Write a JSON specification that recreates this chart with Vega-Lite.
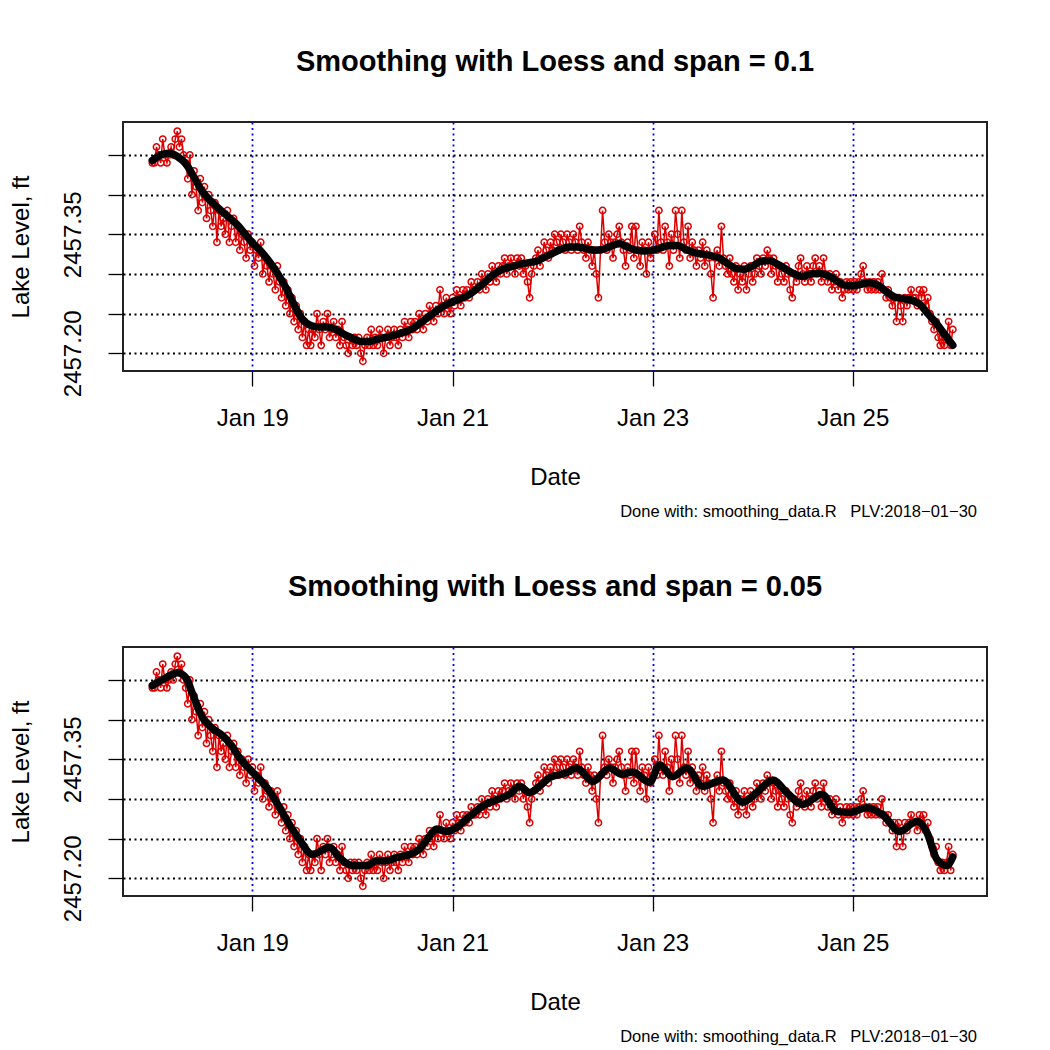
{
"$schema":"https://vega.github.io/schema/vega-lite/v6.json",
"background":"white",
"padding":{"left":7,"top":47,"right":5,"bottom":5},
"bounds":"flush",
"spacing":137.5,
"config":{"font":"Liberation Sans","view":{"stroke":"#222222","strokeWidth":2}},
"datasets":{
"raw":[
{"t":"2018-01-18T00:00","v":2457.44},{"t":"2018-01-18T00:30","v":2457.44},{"t":"2018-01-18T01:00","v":2457.46},{"t":"2018-01-18T01:30","v":2457.45},{"t":"2018-01-18T02:00","v":2457.44},{"t":"2018-01-18T02:30","v":2457.47},{"t":"2018-01-18T03:00","v":2457.45},{"t":"2018-01-18T03:30","v":2457.44},{"t":"2018-01-18T04:00","v":2457.45},{"t":"2018-01-18T04:30","v":2457.46},{"t":"2018-01-18T05:00","v":2457.45},{"t":"2018-01-18T05:30","v":2457.47},{"t":"2018-01-18T06:00","v":2457.48},{"t":"2018-01-18T06:30","v":2457.46},{"t":"2018-01-18T07:00","v":2457.47},{"t":"2018-01-18T07:30","v":2457.45},{"t":"2018-01-18T08:00","v":2457.44},{"t":"2018-01-18T08:30","v":2457.42},{"t":"2018-01-18T09:00","v":2457.45},{"t":"2018-01-18T09:30","v":2457.40},{"t":"2018-01-18T10:00","v":2457.43},{"t":"2018-01-18T10:30","v":2457.41},{"t":"2018-01-18T11:00","v":2457.38},{"t":"2018-01-18T11:30","v":2457.42},{"t":"2018-01-18T12:00","v":2457.39},{"t":"2018-01-18T12:30","v":2457.41},{"t":"2018-01-18T13:00","v":2457.37},{"t":"2018-01-18T13:30","v":2457.40},{"t":"2018-01-18T14:00","v":2457.38},{"t":"2018-01-18T14:30","v":2457.36},{"t":"2018-01-18T15:00","v":2457.39},{"t":"2018-01-18T15:30","v":2457.34},{"t":"2018-01-18T16:00","v":2457.38},{"t":"2018-01-18T16:30","v":2457.36},{"t":"2018-01-18T17:00","v":2457.37},{"t":"2018-01-18T17:30","v":2457.35},{"t":"2018-01-18T18:00","v":2457.38},{"t":"2018-01-18T18:30","v":2457.34},{"t":"2018-01-18T19:00","v":2457.36},{"t":"2018-01-18T19:30","v":2457.37},{"t":"2018-01-18T20:00","v":2457.34},{"t":"2018-01-18T20:30","v":2457.36},{"t":"2018-01-18T21:00","v":2457.33},{"t":"2018-01-18T21:30","v":2457.35},{"t":"2018-01-18T22:00","v":2457.34},{"t":"2018-01-18T22:30","v":2457.32},{"t":"2018-01-18T23:00","v":2457.35},{"t":"2018-01-18T23:30","v":2457.33},
{"t":"2018-01-19T00:00","v":2457.34},{"t":"2018-01-19T00:30","v":2457.31},{"t":"2018-01-19T01:00","v":2457.33},{"t":"2018-01-19T01:30","v":2457.32},{"t":"2018-01-19T02:00","v":2457.34},{"t":"2018-01-19T02:30","v":2457.30},{"t":"2018-01-19T03:00","v":2457.32},{"t":"2018-01-19T03:30","v":2457.31},{"t":"2018-01-19T04:00","v":2457.29},{"t":"2018-01-19T04:30","v":2457.31},{"t":"2018-01-19T05:00","v":2457.30},{"t":"2018-01-19T05:30","v":2457.28},{"t":"2018-01-19T06:00","v":2457.31},{"t":"2018-01-19T06:30","v":2457.29},{"t":"2018-01-19T07:00","v":2457.27},{"t":"2018-01-19T07:30","v":2457.29},{"t":"2018-01-19T08:00","v":2457.26},{"t":"2018-01-19T08:30","v":2457.28},{"t":"2018-01-19T09:00","v":2457.25},{"t":"2018-01-19T09:30","v":2457.27},{"t":"2018-01-19T10:00","v":2457.24},{"t":"2018-01-19T10:30","v":2457.26},{"t":"2018-01-19T11:00","v":2457.23},{"t":"2018-01-19T11:30","v":2457.25},{"t":"2018-01-19T12:00","v":2457.22},{"t":"2018-01-19T12:30","v":2457.24},{"t":"2018-01-19T13:00","v":2457.21},{"t":"2018-01-19T13:30","v":2457.23},{"t":"2018-01-19T14:00","v":2457.21},{"t":"2018-01-19T14:30","v":2457.23},{"t":"2018-01-19T15:00","v":2457.22},{"t":"2018-01-19T15:30","v":2457.25},{"t":"2018-01-19T16:00","v":2457.23},{"t":"2018-01-19T16:30","v":2457.21},{"t":"2018-01-19T17:00","v":2457.24},{"t":"2018-01-19T17:30","v":2457.23},{"t":"2018-01-19T18:00","v":2457.25},{"t":"2018-01-19T18:30","v":2457.22},{"t":"2018-01-19T19:00","v":2457.23},{"t":"2018-01-19T19:30","v":2457.24},{"t":"2018-01-19T20:00","v":2457.22},{"t":"2018-01-19T20:30","v":2457.23},{"t":"2018-01-19T21:00","v":2457.21},{"t":"2018-01-19T21:30","v":2457.24},{"t":"2018-01-19T22:00","v":2457.22},{"t":"2018-01-19T22:30","v":2457.21},{"t":"2018-01-19T23:00","v":2457.20},{"t":"2018-01-19T23:30","v":2457.22},
{"t":"2018-01-20T00:00","v":2457.21},{"t":"2018-01-20T00:30","v":2457.22},{"t":"2018-01-20T01:00","v":2457.21},{"t":"2018-01-20T01:30","v":2457.22},{"t":"2018-01-20T02:00","v":2457.20},{"t":"2018-01-20T02:30","v":2457.19},{"t":"2018-01-20T03:00","v":2457.21},{"t":"2018-01-20T03:30","v":2457.22},{"t":"2018-01-20T04:00","v":2457.21},{"t":"2018-01-20T04:30","v":2457.23},{"t":"2018-01-20T05:00","v":2457.21},{"t":"2018-01-20T05:30","v":2457.22},{"t":"2018-01-20T06:00","v":2457.21},{"t":"2018-01-20T06:30","v":2457.23},{"t":"2018-01-20T07:00","v":2457.22},{"t":"2018-01-20T07:30","v":2457.20},{"t":"2018-01-20T08:00","v":2457.22},{"t":"2018-01-20T08:30","v":2457.23},{"t":"2018-01-20T09:00","v":2457.21},{"t":"2018-01-20T09:30","v":2457.22},{"t":"2018-01-20T10:00","v":2457.23},{"t":"2018-01-20T10:30","v":2457.22},{"t":"2018-01-20T11:00","v":2457.21},{"t":"2018-01-20T11:30","v":2457.23},{"t":"2018-01-20T12:00","v":2457.22},{"t":"2018-01-20T12:30","v":2457.24},{"t":"2018-01-20T13:00","v":2457.23},{"t":"2018-01-20T13:30","v":2457.22},{"t":"2018-01-20T14:00","v":2457.24},{"t":"2018-01-20T14:30","v":2457.23},{"t":"2018-01-20T15:00","v":2457.24},{"t":"2018-01-20T15:30","v":2457.23},{"t":"2018-01-20T16:00","v":2457.25},{"t":"2018-01-20T16:30","v":2457.24},{"t":"2018-01-20T17:00","v":2457.23},{"t":"2018-01-20T17:30","v":2457.25},{"t":"2018-01-20T18:00","v":2457.24},{"t":"2018-01-20T18:30","v":2457.26},{"t":"2018-01-20T19:00","v":2457.25},{"t":"2018-01-20T19:30","v":2457.24},{"t":"2018-01-20T20:00","v":2457.26},{"t":"2018-01-20T20:30","v":2457.25},{"t":"2018-01-20T21:00","v":2457.28},{"t":"2018-01-20T21:30","v":2457.26},{"t":"2018-01-20T22:00","v":2457.25},{"t":"2018-01-20T22:30","v":2457.27},{"t":"2018-01-20T23:00","v":2457.26},{"t":"2018-01-20T23:30","v":2457.25},
{"t":"2018-01-21T00:00","v":2457.27},{"t":"2018-01-21T00:30","v":2457.26},{"t":"2018-01-21T01:00","v":2457.28},{"t":"2018-01-21T01:30","v":2457.27},{"t":"2018-01-21T02:00","v":2457.26},{"t":"2018-01-21T02:30","v":2457.28},{"t":"2018-01-21T03:00","v":2457.27},{"t":"2018-01-21T03:30","v":2457.28},{"t":"2018-01-21T04:00","v":2457.27},{"t":"2018-01-21T04:30","v":2457.29},{"t":"2018-01-21T05:00","v":2457.28},{"t":"2018-01-21T05:30","v":2457.28},{"t":"2018-01-21T06:00","v":2457.29},{"t":"2018-01-21T06:30","v":2457.28},{"t":"2018-01-21T07:00","v":2457.30},{"t":"2018-01-21T07:30","v":2457.29},{"t":"2018-01-21T08:00","v":2457.28},{"t":"2018-01-21T08:30","v":2457.30},{"t":"2018-01-21T09:00","v":2457.29},{"t":"2018-01-21T09:30","v":2457.31},{"t":"2018-01-21T10:00","v":2457.30},{"t":"2018-01-21T10:30","v":2457.29},{"t":"2018-01-21T11:00","v":2457.31},{"t":"2018-01-21T11:30","v":2457.30},{"t":"2018-01-21T12:00","v":2457.31},{"t":"2018-01-21T12:30","v":2457.32},{"t":"2018-01-21T13:00","v":2457.30},{"t":"2018-01-21T13:30","v":2457.31},{"t":"2018-01-21T14:00","v":2457.32},{"t":"2018-01-21T14:30","v":2457.31},{"t":"2018-01-21T15:00","v":2457.30},{"t":"2018-01-21T15:30","v":2457.32},{"t":"2018-01-21T16:00","v":2457.31},{"t":"2018-01-21T16:30","v":2457.32},{"t":"2018-01-21T17:00","v":2457.30},{"t":"2018-01-21T17:30","v":2457.31},{"t":"2018-01-21T18:00","v":2457.29},{"t":"2018-01-21T18:30","v":2457.27},{"t":"2018-01-21T19:00","v":2457.30},{"t":"2018-01-21T19:30","v":2457.31},{"t":"2018-01-21T20:00","v":2457.32},{"t":"2018-01-21T20:30","v":2457.33},{"t":"2018-01-21T21:00","v":2457.31},{"t":"2018-01-21T21:30","v":2457.32},{"t":"2018-01-21T22:00","v":2457.34},{"t":"2018-01-21T22:30","v":2457.33},{"t":"2018-01-21T23:00","v":2457.32},{"t":"2018-01-21T23:30","v":2457.34},
{"t":"2018-01-22T00:00","v":2457.33},{"t":"2018-01-22T00:30","v":2457.35},{"t":"2018-01-22T01:00","v":2457.34},{"t":"2018-01-22T01:30","v":2457.33},{"t":"2018-01-22T02:00","v":2457.35},{"t":"2018-01-22T02:30","v":2457.34},{"t":"2018-01-22T03:00","v":2457.33},{"t":"2018-01-22T03:30","v":2457.35},{"t":"2018-01-22T04:00","v":2457.34},{"t":"2018-01-22T04:30","v":2457.33},{"t":"2018-01-22T05:00","v":2457.35},{"t":"2018-01-22T05:30","v":2457.34},{"t":"2018-01-22T06:00","v":2457.33},{"t":"2018-01-22T06:30","v":2457.36},{"t":"2018-01-22T07:00","v":2457.34},{"t":"2018-01-22T07:30","v":2457.33},{"t":"2018-01-22T08:00","v":2457.32},{"t":"2018-01-22T08:30","v":2457.34},{"t":"2018-01-22T09:00","v":2457.33},{"t":"2018-01-22T09:30","v":2457.31},{"t":"2018-01-22T10:00","v":2457.33},{"t":"2018-01-22T10:30","v":2457.30},{"t":"2018-01-22T11:00","v":2457.27},{"t":"2018-01-22T11:30","v":2457.33},{"t":"2018-01-22T12:00","v":2457.38},{"t":"2018-01-22T12:30","v":2457.34},{"t":"2018-01-22T13:00","v":2457.33},{"t":"2018-01-22T13:30","v":2457.35},{"t":"2018-01-22T14:00","v":2457.34},{"t":"2018-01-22T14:30","v":2457.32},{"t":"2018-01-22T15:00","v":2457.34},{"t":"2018-01-22T15:30","v":2457.35},{"t":"2018-01-22T16:00","v":2457.36},{"t":"2018-01-22T16:30","v":2457.34},{"t":"2018-01-22T17:00","v":2457.33},{"t":"2018-01-22T17:30","v":2457.31},{"t":"2018-01-22T18:00","v":2457.34},{"t":"2018-01-22T18:30","v":2457.33},{"t":"2018-01-22T19:00","v":2457.36},{"t":"2018-01-22T19:30","v":2457.32},{"t":"2018-01-22T20:00","v":2457.36},{"t":"2018-01-22T20:30","v":2457.33},{"t":"2018-01-22T21:00","v":2457.31},{"t":"2018-01-22T21:30","v":2457.34},{"t":"2018-01-22T22:00","v":2457.33},{"t":"2018-01-22T22:30","v":2457.30},{"t":"2018-01-22T23:00","v":2457.34},{"t":"2018-01-22T23:30","v":2457.32},
{"t":"2018-01-23T00:00","v":2457.33},{"t":"2018-01-23T00:30","v":2457.35},{"t":"2018-01-23T01:00","v":2457.33},{"t":"2018-01-23T01:30","v":2457.38},{"t":"2018-01-23T02:00","v":2457.34},{"t":"2018-01-23T02:30","v":2457.33},{"t":"2018-01-23T03:00","v":2457.36},{"t":"2018-01-23T03:30","v":2457.34},{"t":"2018-01-23T04:00","v":2457.31},{"t":"2018-01-23T04:30","v":2457.35},{"t":"2018-01-23T05:00","v":2457.33},{"t":"2018-01-23T05:30","v":2457.38},{"t":"2018-01-23T06:00","v":2457.35},{"t":"2018-01-23T06:30","v":2457.32},{"t":"2018-01-23T07:00","v":2457.38},{"t":"2018-01-23T07:30","v":2457.34},{"t":"2018-01-23T08:00","v":2457.33},{"t":"2018-01-23T08:30","v":2457.36},{"t":"2018-01-23T09:00","v":2457.32},{"t":"2018-01-23T09:30","v":2457.34},{"t":"2018-01-23T10:00","v":2457.33},{"t":"2018-01-23T10:30","v":2457.31},{"t":"2018-01-23T11:00","v":2457.33},{"t":"2018-01-23T11:30","v":2457.32},{"t":"2018-01-23T12:00","v":2457.34},{"t":"2018-01-23T12:30","v":2457.31},{"t":"2018-01-23T13:00","v":2457.33},{"t":"2018-01-23T13:30","v":2457.32},{"t":"2018-01-23T14:00","v":2457.30},{"t":"2018-01-23T14:30","v":2457.27},{"t":"2018-01-23T15:00","v":2457.32},{"t":"2018-01-23T15:30","v":2457.33},{"t":"2018-01-23T16:00","v":2457.31},{"t":"2018-01-23T16:30","v":2457.36},{"t":"2018-01-23T17:00","v":2457.32},{"t":"2018-01-23T17:30","v":2457.31},{"t":"2018-01-23T18:00","v":2457.30},{"t":"2018-01-23T18:30","v":2457.32},{"t":"2018-01-23T19:00","v":2457.30},{"t":"2018-01-23T19:30","v":2457.29},{"t":"2018-01-23T20:00","v":2457.31},{"t":"2018-01-23T20:30","v":2457.28},{"t":"2018-01-23T21:00","v":2457.30},{"t":"2018-01-23T21:30","v":2457.29},{"t":"2018-01-23T22:00","v":2457.31},{"t":"2018-01-23T22:30","v":2457.28},{"t":"2018-01-23T23:00","v":2457.30},{"t":"2018-01-23T23:30","v":2457.31},
{"t":"2018-01-24T00:00","v":2457.29},{"t":"2018-01-24T00:30","v":2457.30},{"t":"2018-01-24T01:00","v":2457.32},{"t":"2018-01-24T01:30","v":2457.31},{"t":"2018-01-24T02:00","v":2457.30},{"t":"2018-01-24T02:30","v":2457.32},{"t":"2018-01-24T03:00","v":2457.31},{"t":"2018-01-24T03:30","v":2457.33},{"t":"2018-01-24T04:00","v":2457.32},{"t":"2018-01-24T04:30","v":2457.30},{"t":"2018-01-24T05:00","v":2457.32},{"t":"2018-01-24T05:30","v":2457.31},{"t":"2018-01-24T06:00","v":2457.29},{"t":"2018-01-24T06:30","v":2457.31},{"t":"2018-01-24T07:00","v":2457.30},{"t":"2018-01-24T07:30","v":2457.29},{"t":"2018-01-24T08:00","v":2457.31},{"t":"2018-01-24T08:30","v":2457.30},{"t":"2018-01-24T09:00","v":2457.28},{"t":"2018-01-24T09:30","v":2457.27},{"t":"2018-01-24T10:00","v":2457.30},{"t":"2018-01-24T10:30","v":2457.29},{"t":"2018-01-24T11:00","v":2457.31},{"t":"2018-01-24T11:30","v":2457.32},{"t":"2018-01-24T12:00","v":2457.30},{"t":"2018-01-24T12:30","v":2457.29},{"t":"2018-01-24T13:00","v":2457.31},{"t":"2018-01-24T13:30","v":2457.30},{"t":"2018-01-24T14:00","v":2457.29},{"t":"2018-01-24T14:30","v":2457.31},{"t":"2018-01-24T15:00","v":2457.32},{"t":"2018-01-24T15:30","v":2457.30},{"t":"2018-01-24T16:00","v":2457.31},{"t":"2018-01-24T16:30","v":2457.29},{"t":"2018-01-24T17:00","v":2457.32},{"t":"2018-01-24T17:30","v":2457.30},{"t":"2018-01-24T18:00","v":2457.29},{"t":"2018-01-24T18:30","v":2457.30},{"t":"2018-01-24T19:00","v":2457.28},{"t":"2018-01-24T19:30","v":2457.29},{"t":"2018-01-24T20:00","v":2457.30},{"t":"2018-01-24T20:30","v":2457.28},{"t":"2018-01-24T21:00","v":2457.29},{"t":"2018-01-24T21:30","v":2457.27},{"t":"2018-01-24T22:00","v":2457.28},{"t":"2018-01-24T22:30","v":2457.29},{"t":"2018-01-24T23:00","v":2457.28},{"t":"2018-01-24T23:30","v":2457.29},
{"t":"2018-01-25T00:00","v":2457.28},{"t":"2018-01-25T00:30","v":2457.29},{"t":"2018-01-25T01:00","v":2457.28},{"t":"2018-01-25T01:30","v":2457.29},{"t":"2018-01-25T02:00","v":2457.30},{"t":"2018-01-25T02:30","v":2457.31},{"t":"2018-01-25T03:00","v":2457.29},{"t":"2018-01-25T03:30","v":2457.28},{"t":"2018-01-25T04:00","v":2457.29},{"t":"2018-01-25T04:30","v":2457.28},{"t":"2018-01-25T05:00","v":2457.29},{"t":"2018-01-25T05:30","v":2457.28},{"t":"2018-01-25T06:00","v":2457.29},{"t":"2018-01-25T06:30","v":2457.28},{"t":"2018-01-25T07:00","v":2457.30},{"t":"2018-01-25T07:30","v":2457.28},{"t":"2018-01-25T08:00","v":2457.27},{"t":"2018-01-25T08:30","v":2457.28},{"t":"2018-01-25T09:00","v":2457.27},{"t":"2018-01-25T09:30","v":2457.26},{"t":"2018-01-25T10:00","v":2457.27},{"t":"2018-01-25T10:30","v":2457.24},{"t":"2018-01-25T11:00","v":2457.27},{"t":"2018-01-25T11:30","v":2457.26},{"t":"2018-01-25T12:00","v":2457.24},{"t":"2018-01-25T12:30","v":2457.27},{"t":"2018-01-25T13:00","v":2457.26},{"t":"2018-01-25T13:30","v":2457.27},{"t":"2018-01-25T14:00","v":2457.28},{"t":"2018-01-25T14:30","v":2457.27},{"t":"2018-01-25T15:00","v":2457.27},{"t":"2018-01-25T15:30","v":2457.26},{"t":"2018-01-25T16:00","v":2457.28},{"t":"2018-01-25T16:30","v":2457.27},{"t":"2018-01-25T17:00","v":2457.28},{"t":"2018-01-25T17:30","v":2457.26},{"t":"2018-01-25T18:00","v":2457.27},{"t":"2018-01-25T18:30","v":2457.25},{"t":"2018-01-25T19:00","v":2457.24},{"t":"2018-01-25T19:30","v":2457.23},{"t":"2018-01-25T20:00","v":2457.24},{"t":"2018-01-25T20:30","v":2457.22},{"t":"2018-01-25T21:00","v":2457.21},{"t":"2018-01-25T21:30","v":2457.22},{"t":"2018-01-25T22:00","v":2457.21},{"t":"2018-01-25T22:30","v":2457.22},{"t":"2018-01-25T23:00","v":2457.24},{"t":"2018-01-25T23:30","v":2457.21},
{"t":"2018-01-26T00:00","v":2457.23}
],
"s1":[
{"t":"2018-01-18T00:00","s":2457.443},{"t":"2018-01-18T02:00","s":2457.450},{"t":"2018-01-18T04:00","s":2457.452},{"t":"2018-01-18T06:00","s":2457.448},{"t":"2018-01-18T08:00","s":2457.439},{"t":"2018-01-18T10:00","s":2457.422},{"t":"2018-01-18T12:00","s":2457.404},{"t":"2018-01-18T14:00","s":2457.392},{"t":"2018-01-18T16:00","s":2457.382},{"t":"2018-01-18T18:00","s":2457.373},{"t":"2018-01-18T20:00","s":2457.364},{"t":"2018-01-18T22:00","s":2457.352},
{"t":"2018-01-19T00:00","s":2457.339},{"t":"2018-01-19T02:00","s":2457.329},{"t":"2018-01-19T04:00","s":2457.316},{"t":"2018-01-19T06:00","s":2457.301},{"t":"2018-01-19T08:00","s":2457.283},{"t":"2018-01-19T10:00","s":2457.261},{"t":"2018-01-19T12:00","s":2457.243},{"t":"2018-01-19T14:00","s":2457.235},{"t":"2018-01-19T16:00","s":2457.233},{"t":"2018-01-19T18:00","s":2457.233},{"t":"2018-01-19T20:00","s":2457.230},{"t":"2018-01-19T22:00","s":2457.224},
{"t":"2018-01-20T00:00","s":2457.219},{"t":"2018-01-20T02:00","s":2457.215},{"t":"2018-01-20T04:00","s":2457.215},{"t":"2018-01-20T06:00","s":2457.218},{"t":"2018-01-20T08:00","s":2457.220},{"t":"2018-01-20T10:00","s":2457.223},{"t":"2018-01-20T12:00","s":2457.226},{"t":"2018-01-20T14:00","s":2457.230},{"t":"2018-01-20T16:00","s":2457.237},{"t":"2018-01-20T18:00","s":2457.245},{"t":"2018-01-20T20:00","s":2457.253},{"t":"2018-01-20T22:00","s":2457.260},
{"t":"2018-01-21T00:00","s":2457.265},{"t":"2018-01-21T02:00","s":2457.269},{"t":"2018-01-21T04:00","s":2457.274},{"t":"2018-01-21T06:00","s":2457.282},{"t":"2018-01-21T08:00","s":2457.291},{"t":"2018-01-21T10:00","s":2457.300},{"t":"2018-01-21T12:00","s":2457.306},{"t":"2018-01-21T14:00","s":2457.309},{"t":"2018-01-21T16:00","s":2457.312},{"t":"2018-01-21T18:00","s":2457.314},{"t":"2018-01-21T20:00","s":2457.316},{"t":"2018-01-21T22:00","s":2457.321},
{"t":"2018-01-22T00:00","s":2457.326},{"t":"2018-01-22T02:00","s":2457.331},{"t":"2018-01-22T04:00","s":2457.334},{"t":"2018-01-22T06:00","s":2457.334},{"t":"2018-01-22T08:00","s":2457.332},{"t":"2018-01-22T10:00","s":2457.330},{"t":"2018-01-22T12:00","s":2457.331},{"t":"2018-01-22T14:00","s":2457.335},{"t":"2018-01-22T16:00","s":2457.338},{"t":"2018-01-22T18:00","s":2457.334},{"t":"2018-01-22T20:00","s":2457.330},{"t":"2018-01-22T22:00","s":2457.329},
{"t":"2018-01-23T00:00","s":2457.330},{"t":"2018-01-23T02:00","s":2457.333},{"t":"2018-01-23T04:00","s":2457.336},{"t":"2018-01-23T06:00","s":2457.336},{"t":"2018-01-23T08:00","s":2457.331},{"t":"2018-01-23T10:00","s":2457.327},{"t":"2018-01-23T12:00","s":2457.325},{"t":"2018-01-23T14:00","s":2457.323},{"t":"2018-01-23T16:00","s":2457.320},{"t":"2018-01-23T18:00","s":2457.313},{"t":"2018-01-23T20:00","s":2457.307},{"t":"2018-01-23T22:00","s":2457.306},
{"t":"2018-01-24T00:00","s":2457.310},{"t":"2018-01-24T02:00","s":2457.316},{"t":"2018-01-24T04:00","s":2457.317},{"t":"2018-01-24T06:00","s":2457.312},{"t":"2018-01-24T08:00","s":2457.306},{"t":"2018-01-24T10:00","s":2457.300},{"t":"2018-01-24T12:00","s":2457.297},{"t":"2018-01-24T14:00","s":2457.300},{"t":"2018-01-24T16:00","s":2457.301},{"t":"2018-01-24T18:00","s":2457.298},{"t":"2018-01-24T20:00","s":2457.292},{"t":"2018-01-24T22:00","s":2457.286},
{"t":"2018-01-25T00:00","s":2457.285},{"t":"2018-01-25T02:00","s":2457.287},{"t":"2018-01-25T04:00","s":2457.289},{"t":"2018-01-25T06:00","s":2457.286},{"t":"2018-01-25T08:00","s":2457.278},{"t":"2018-01-25T10:00","s":2457.271},{"t":"2018-01-25T12:00","s":2457.269},{"t":"2018-01-25T14:00","s":2457.267},{"t":"2018-01-25T16:00","s":2457.262},{"t":"2018-01-25T18:00","s":2457.250},{"t":"2018-01-25T20:00","s":2457.238},{"t":"2018-01-25T22:00","s":2457.224},
{"t":"2018-01-26T00:00","s":2457.210}
],
"s2":[
{"t":"2018-01-18T00:00","s":2457.443},{"t":"2018-01-18T03:20","s":2457.453},{"t":"2018-01-18T06:00","s":2457.459},{"t":"2018-01-18T08:10","s":2457.452},{"t":"2018-01-18T09:36","s":2457.433},{"t":"2018-01-18T12:00","s":2457.403},{"t":"2018-01-18T14:24","s":2457.389},{"t":"2018-01-18T16:48","s":2457.380},{"t":"2018-01-18T19:12","s":2457.366},{"t":"2018-01-18T20:53","s":2457.352},
{"t":"2018-01-19T00:00","s":2457.334},{"t":"2018-01-19T03:22","s":2457.315},{"t":"2018-01-19T05:46","s":2457.296},{"t":"2018-01-19T08:10","s":2457.274},{"t":"2018-01-19T11:17","s":2457.249},{"t":"2018-01-19T14:24","s":2457.230},{"t":"2018-01-19T18:29","s":2457.239},{"t":"2018-01-19T20:53","s":2457.226},
{"t":"2018-01-20T00:00","s":2457.216},{"t":"2018-01-20T03:22","s":2457.216},{"t":"2018-01-20T05:46","s":2457.222},{"t":"2018-01-20T08:10","s":2457.222},{"t":"2018-01-20T10:34","s":2457.226},{"t":"2018-01-20T13:41","s":2457.230},{"t":"2018-01-20T16:05","s":2457.237},{"t":"2018-01-20T18:29","s":2457.253},{"t":"2018-01-20T20:10","s":2457.262},{"t":"2018-01-20T22:34","s":2457.259},
{"t":"2018-01-21T00:58","s":2457.264},{"t":"2018-01-21T04:05","s":2457.278},{"t":"2018-01-21T07:12","s":2457.291},{"t":"2018-01-21T10:34","s":2457.299},{"t":"2018-01-21T13:41","s":2457.306},{"t":"2018-01-21T16:05","s":2457.316},{"t":"2018-01-21T18:29","s":2457.308},{"t":"2018-01-21T20:53","s":2457.316},{"t":"2018-01-21T23:17","s":2457.327},
{"t":"2018-01-22T03:22","s":2457.333},{"t":"2018-01-22T05:46","s":2457.339},{"t":"2018-01-22T07:12","s":2457.334},{"t":"2018-01-22T09:36","s":2457.322},{"t":"2018-01-22T13:41","s":2457.339},{"t":"2018-01-22T16:34","s":2457.331},{"t":"2018-01-22T19:12","s":2457.334},{"t":"2018-01-22T23:17","s":2457.321},
{"t":"2018-01-23T01:41","s":2457.343},{"t":"2018-01-23T04:48","s":2457.328},{"t":"2018-01-23T08:10","s":2457.339},{"t":"2018-01-23T12:00","s":2457.316},{"t":"2018-01-23T16:48","s":2457.324},{"t":"2018-01-23T21:36","s":2457.296},
{"t":"2018-01-24T00:58","s":2457.308},{"t":"2018-01-24T04:48","s":2457.324},{"t":"2018-01-24T08:10","s":2457.308},{"t":"2018-01-24T12:00","s":2457.293},{"t":"2018-01-24T16:34","s":2457.306},{"t":"2018-01-24T20:10","s":2457.284},{"t":"2018-01-24T23:17","s":2457.283},
{"t":"2018-01-25T03:22","s":2457.289},{"t":"2018-01-25T07:12","s":2457.280},{"t":"2018-01-25T11:17","s":2457.259},{"t":"2018-01-25T15:22","s":2457.272},{"t":"2018-01-25T17:46","s":2457.258},{"t":"2018-01-25T20:10","s":2457.224},{"t":"2018-01-25T22:34","s":2457.216},
{"t":"2018-01-26T00:00","s":2457.227}
],
"none":[]
},
"vconcat":[
{
"width":864,"height":249,
"title":{"text":"Smoothing with Loess and span = 0.1","fontSize":29,"fontWeight":"bold","color":"black","anchor":"middle","frame":"group","baseline":"alphabetic","offset":22},
"layer":[
{"data":{"name":"raw"},"mark":{"type":"line","color":"#dd0000","strokeWidth":1.5},
"encoding":{
"x":{"field":"t","type":"temporal","scale":{"domain":[{"year":2018,"month":1,"date":17,"hours":16,"minutes":58},{"year":2018,"month":1,"date":26,"hours":8,"minutes":12}],"nice":false},
"axis":{"orient":"bottom","values":[{"year":2018,"month":1,"date":19},{"year":2018,"month":1,"date":21},{"year":2018,"month":1,"date":23},{"year":2018,"month":1,"date":25}],"format":"%b %d","title":"Date","domain":false,"ticks":true,"tickSize":15,"tickColor":"black","tickWidth":1.3,"labelFontSize":24,"labelColor":"black","labelPadding":39,"labelBaseline":"alphabetic","labelFlush":false,"labelOverlap":false,"titleFontSize":24,"titleFontWeight":"normal","titleColor":"black","titleX":432,"titleY":113,"titleAlign":"center","titleBaseline":"alphabetic","grid":true,"gridColor":"#0000ff","gridDash":[2,3.5],"gridWidth":1.8,"gridOpacity":1}},
"y":{"field":"v","type":"quantitative","scale":{"domain":[2457.1777,2457.4915],"nice":false,"zero":false},
"axis":{"values":[2457.2,2457.25,2457.3,2457.35,2457.4,2457.45],"labelExpr":"(abs(datum.value-2457.2)<0.001 || abs(datum.value-2457.35)<0.001) ? format(datum.value,'.2f') : ''","title":"Lake Level, ft","domain":false,"ticks":true,"tickSize":15,"tickColor":"black","tickWidth":1.3,"labelFontSize":24,"labelColor":"black","labelAngle":-90,"labelAlign":"center","labelBaseline":"alphabetic","labelPadding":28,"labelOverlap":false,"labelFlush":false,"titleFontSize":24,"titleFontWeight":"normal","titleColor":"black","titleAngle":-90,"titleX":-95,"titleY":124.5,"titleAlign":"center","titleBaseline":"alphabetic","grid":true,"gridColor":"black","gridDash":[2,3.5],"gridWidth":1.8,"gridOpacity":1}}}},
{"data":{"name":"raw"},"mark":{"type":"point","shape":"circle","filled":false,"color":"#dd0000","size":40,"strokeWidth":1.5,"opacity":1},
"encoding":{"x":{"field":"t","type":"temporal"},"y":{"field":"v","type":"quantitative"}}},
{"data":{"name":"s1"},"mark":{"type":"line","color":"black","strokeWidth":7.5,"interpolate":"monotone","strokeCap":"round","strokeJoin":"round"},
"encoding":{"x":{"field":"t","type":"temporal"},"y":{"field":"s","type":"quantitative"}}}
]
},
{
"width":864,"height":1,
"view":{"stroke":null},
"title":{"text":"Done with: smoothing_data.R\u00a0\u00a0\u00a0PLV:2018\u221201\u221230","orient":"bottom","anchor":"end","frame":"group","dx":-10,"fontSize":16.5,"fontWeight":"normal","color":"black","baseline":"alphabetic","offset":7},
"data":{"name":"none"},
"mark":{"type":"point","opacity":0}
},
{
"width":864,"height":249,
"title":{"text":"Smoothing with Loess and span = 0.05","fontSize":29,"fontWeight":"bold","color":"black","anchor":"middle","frame":"group","baseline":"alphabetic","offset":22},
"layer":[
{"data":{"name":"raw"},"mark":{"type":"line","color":"#dd0000","strokeWidth":1.5},
"encoding":{
"x":{"field":"t","type":"temporal","scale":{"domain":[{"year":2018,"month":1,"date":17,"hours":16,"minutes":58},{"year":2018,"month":1,"date":26,"hours":8,"minutes":12}],"nice":false},
"axis":{"orient":"bottom","values":[{"year":2018,"month":1,"date":19},{"year":2018,"month":1,"date":21},{"year":2018,"month":1,"date":23},{"year":2018,"month":1,"date":25}],"format":"%b %d","title":"Date","domain":false,"ticks":true,"tickSize":15,"tickColor":"black","tickWidth":1.3,"labelFontSize":24,"labelColor":"black","labelPadding":39,"labelBaseline":"alphabetic","labelFlush":false,"labelOverlap":false,"titleFontSize":24,"titleFontWeight":"normal","titleColor":"black","titleX":432,"titleY":113,"titleAlign":"center","titleBaseline":"alphabetic","grid":true,"gridColor":"#0000ff","gridDash":[2,3.5],"gridWidth":1.8,"gridOpacity":1}},
"y":{"field":"v","type":"quantitative","scale":{"domain":[2457.1777,2457.4915],"nice":false,"zero":false},
"axis":{"values":[2457.2,2457.25,2457.3,2457.35,2457.4,2457.45],"labelExpr":"(abs(datum.value-2457.2)<0.001 || abs(datum.value-2457.35)<0.001) ? format(datum.value,'.2f') : ''","title":"Lake Level, ft","domain":false,"ticks":true,"tickSize":15,"tickColor":"black","tickWidth":1.3,"labelFontSize":24,"labelColor":"black","labelAngle":-90,"labelAlign":"center","labelBaseline":"alphabetic","labelPadding":28,"labelOverlap":false,"labelFlush":false,"titleFontSize":24,"titleFontWeight":"normal","titleColor":"black","titleAngle":-90,"titleX":-95,"titleY":124.5,"titleAlign":"center","titleBaseline":"alphabetic","grid":true,"gridColor":"black","gridDash":[2,3.5],"gridWidth":1.8,"gridOpacity":1}}}},
{"data":{"name":"raw"},"mark":{"type":"point","shape":"circle","filled":false,"color":"#dd0000","size":40,"strokeWidth":1.5,"opacity":1},
"encoding":{"x":{"field":"t","type":"temporal"},"y":{"field":"v","type":"quantitative"}}},
{"data":{"name":"s2"},"mark":{"type":"line","color":"black","strokeWidth":7.5,"interpolate":"monotone","strokeCap":"round","strokeJoin":"round"},
"encoding":{"x":{"field":"t","type":"temporal"},"y":{"field":"s","type":"quantitative"}}}
]
},
{
"width":864,"height":1,
"view":{"stroke":null},
"title":{"text":"Done with: smoothing_data.R\u00a0\u00a0\u00a0PLV:2018\u221201\u221230","orient":"bottom","anchor":"end","frame":"group","dx":-10,"fontSize":16.5,"fontWeight":"normal","color":"black","baseline":"alphabetic","offset":7},
"data":{"name":"none"},
"mark":{"type":"point","opacity":0}
}
]
}
